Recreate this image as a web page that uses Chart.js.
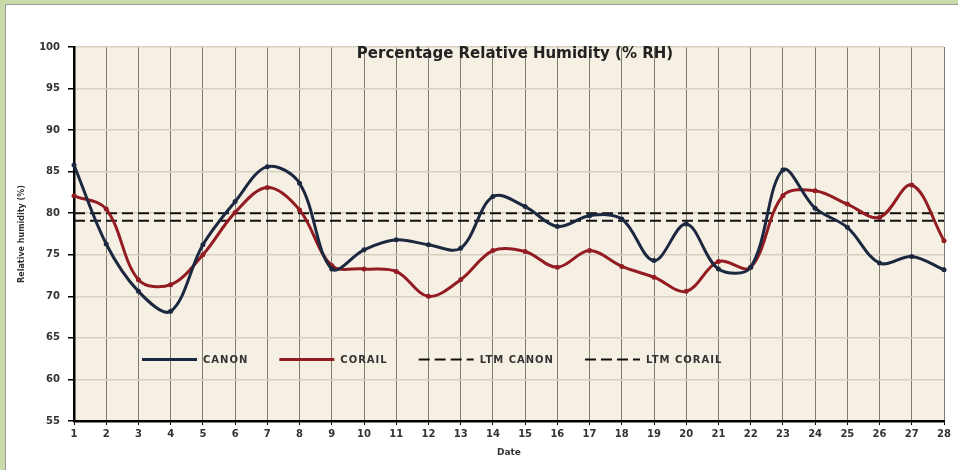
<!DOCTYPE html>
<html lang="en">
<head>
  <meta charset="UTF-8" />
  <title>Percentage Relative Humidity</title>
  <script src="https://cdn.jsdelivr.net/npm/chart.js"></script>
  <style>
    html, body { margin: 0; padding: 0; }
    body { width: 958px; height: 470px; background: #c9dbab; position: relative; overflow: hidden; }
    #card { position: absolute; left: 5px; top: 4px; width: 953px; height: 466px; background: #fff;
            border-left: 1px solid #9a9a9a; border-top: 1px solid #9a9a9a; }
    #card canvas { display: block; }
  </style>
</head>
<body>
<div id="card"><canvas id="rh" width="952" height="465"></canvas></div>

<script>
  // values
  const days = ['1','2','3','4','5','6','7','8','9','10','11','12','13','14',
                '15','16','17','18','19','20','21','22','23','24','25','26','27','28'];
  const canon = [85.8, 76.3, 70.6, 68.2, 76.2, 81.4, 85.6, 83.6, 73.3, 75.6, 76.8, 76.2, 75.8, 82.0,
                 80.8, 78.4, 79.7, 79.3, 74.3, 78.7, 73.3, 73.5, 85.2, 80.6, 78.3, 74.0, 74.8, 73.2];
  const corail = [82.1, 80.5, 72.0, 71.4, 75.0, 80.1, 83.1, 80.4, 73.7, 73.3, 73.0, 70.0, 72.0, 75.5,
                  75.4, 73.5, 75.5, 73.6, 72.3, 70.6, 74.2, 73.5, 82.1, 82.7, 81.1, 79.5, 83.4, 76.7];
  const ltmCanon = 80.0;
  const ltmCorail = 79.1;
  const yTicks = [55, 60, 65, 70, 75, 80, 85, 90, 95, 100];

  const NAVY = '#1b2840';
  const RED = '#931b22';
  const FONT = 'DejaVu Sans';

  // cream plot background
  const plotBg = {
    id: 'plotBg',
    beforeDraw(chart) {
      const { ctx, chartArea: a } = chart;
      ctx.save();
      ctx.fillStyle = '#f6f0e4';
      ctx.fillRect(a.left, a.top, a.right - a.left, a.bottom - a.top);
      ctx.restore();
    }
  };

  // title sits inside the plot, near the top
  const innerTitle = {
    id: 'innerTitle',
    afterDatasetsDraw(chart) {
      const { ctx, chartArea: a } = chart;
      ctx.save();
      ctx.font = 'bold 15px "' + FONT + '"';
      ctx.fillStyle = '#222';
      ctx.textAlign = 'center';
      ctx.textBaseline = 'middle';
      ctx.fillText('Percentage Relative Humidity (% RH)', (a.left + a.right) / 2 + 6, a.top + 7);
      ctx.restore();
    }
  };

  // legend drawn in one row inside the lower part of the plot
  const innerLegend = {
    id: 'innerLegend',
    afterDatasetsDraw(chart) {
      const { ctx, chartArea: a } = chart;
      const y = chart.scales.y.getPixelForValue(62.4);
      let x = a.left + 68;
      ctx.save();
      ctx.font = 'bold 10px "' + FONT + '"';
      ctx.letterSpacing = '1px';
      ctx.textBaseline = 'middle';
      chart.data.datasets.forEach(ds => {
        ctx.strokeStyle = ds.borderColor;
        ctx.lineWidth = ds.borderWidth;
        ctx.setLineDash(ds.borderDash || []);
        ctx.beginPath();
        ctx.moveTo(x, y);
        ctx.lineTo(x + 55, y);
        ctx.stroke();
        ctx.setLineDash([]);
        x += 61;
        ctx.fillStyle = '#333';
        ctx.fillText(ds.label, x, y + 1);
        x += ctx.measureText(ds.label).width + 31;
      });
      ctx.restore();
    }
  };

  new Chart(document.getElementById('rh'), {
    type: 'line',
    data: {
      labels: days,
      datasets: [
        {
          label: 'CANON', data: canon, borderColor: NAVY, backgroundColor: NAVY,
          borderWidth: 3, tension: 0.35, pointRadius: 2.5, pointBorderWidth: 0
        },
        {
          label: 'CORAIL', data: corail, borderColor: RED, backgroundColor: RED,
          borderWidth: 3, tension: 0.35, pointRadius: 2.5, pointBorderWidth: 0
        },
        {
          label: 'LTM CANON', data: days.map(() => ltmCanon), borderColor: '#111',
          borderWidth: 2, borderDash: [11, 5], pointRadius: 0
        },
        {
          label: 'LTM CORAIL', data: days.map(() => ltmCorail), borderColor: '#111',
          borderWidth: 2, borderDash: [11, 5], pointRadius: 0
        }
      ]
    },
    options: {
      responsive: false,
      animation: false,
      layout: { padding: { top: 42, right: 14, bottom: 0, left: 0 } },
      plugins: { legend: { display: false }, tooltip: { enabled: false } },
      scales: {
        x: {
          offset: false,
          grid: { color: '#7f7a6f', lineWidth: 1, tickLength: 4, tickColor: '#000' },
          border: { color: '#000', width: 2.5 },
          ticks: { color: '#333', font: { family: FONT, size: 10, weight: 'bold' }, padding: 3, maxRotation: 0, autoSkip: false },
          title: { display: true, text: 'Date', color: '#333', font: { family: FONT, size: 9, weight: 'bold' }, padding: { top: 0, bottom: 12 } },
          afterFit(scale) { scale.height = 49; }
        },
        y: {
          min: 55, max: 100,
          afterBuildTicks(scale) { scale.ticks = yTicks.map(v => ({ value: v })); },
          grid: { color: '#d6cfc1', lineWidth: 1.5, tickLength: 6, tickColor: '#000' },
          border: { color: '#000', width: 2.5 },
          ticks: { color: '#333', font: { family: FONT, size: 10, weight: 'bold' }, padding: 8 },
          title: { display: true, text: 'Relative humidity (%)', color: '#333', font: { family: FONT, size: 8, weight: 'bold' }, padding: { top: 11, bottom: 0 } },
          afterFit(scale) { scale.width = 68; }
        }
      }
    },
    plugins: [plotBg, innerTitle, innerLegend]
  });
</script>
</body>
</html>
